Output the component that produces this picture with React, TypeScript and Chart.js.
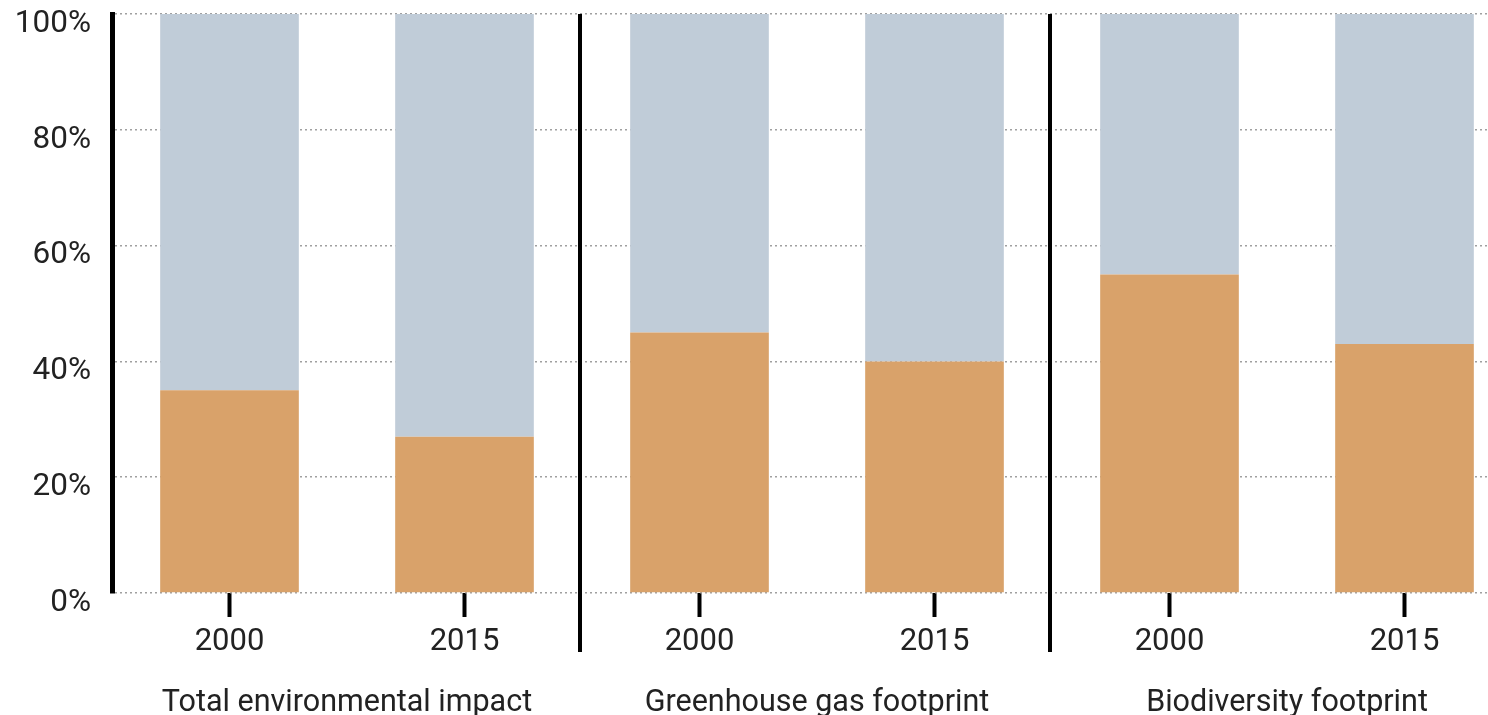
import React, { useEffect, useRef } from "react";
import { Chart, registerables } from "chart.js";

Chart.register(...registerables);

const years = ["2000", "2015", "2000", "2015", "2000", "2015"];
const groups = ["Total environmental impact", "Greenhouse gas footprint", "Biodiversity footprint"];
const orangeShare = [35, 27, 45, 40, 55, 43];
const grayShare = [65, 73, 55, 60, 45, 57];
const yTicks = [0, 20, 40, 60, 80, 100];

const ORANGE = "#D9A26A";
const GRAY = "#C0CCD8";
const FONT = "Roboto";

const dividerPlugin = {
  id: "dividers",
  afterDatasetsDraw(chart: any) {
    const x = chart.scales.x;
    const { ctx, chartArea } = chart;
    ctx.save();
    ctx.strokeStyle = "#000";
    ctx.lineWidth = 4;
    for (const i of [1, 3]) {
      const px = (x.getPixelForValue(i) + x.getPixelForValue(i + 1)) / 2 - 2;
      ctx.beginPath();
      ctx.moveTo(px, chartArea.top);
      ctx.lineTo(px, chartArea.bottom + 59);
      ctx.stroke();
    }
    ctx.restore();
  },
};

export default function App() {
  const ref = useRef<HTMLCanvasElement>(null);
  useEffect(() => {
    if (!ref.current) return;
    const chart = new Chart(ref.current, {
      type: "bar",
      data: {
        labels: years,
        datasets: [
          { label: "share", data: orangeShare, backgroundColor: ORANGE, xAxisID: "x" },
          { label: "rest", data: grayShare, backgroundColor: GRAY, xAxisID: "x" },
        ],
      },
      options: {
        animation: false,
        responsive: false,
        layout: { padding: { top: 14, right: 10, left: 0, bottom: 0 } },
        plugins: { legend: { display: false }, tooltip: { enabled: false } },
        datasets: { bar: { categoryPercentage: 1, barPercentage: 0.59 } } as any,
        scales: {
          x: {
            stacked: true,
            position: "bottom",
            grid: {
              display: true,
              drawOnChartArea: false,
              drawTicks: true,
              tickLength: 24,
              tickWidth: 4,
              tickColor: "#000",
              offset: false,
            },
            border: { display: false },
            ticks: { color: "#222", font: { family: FONT, size: 31 }, padding: 7 },
            afterFit(scale: any) {
              scale.height = 65;
              scale.paddingLeft = 0;
              scale.paddingRight = 0;
            },
          },
          x2: {
            type: "category",
            labels: groups,
            position: "bottom",
            grid: { display: false, drawTicks: false },
            border: { display: false },
            ticks: { color: "#222", font: { family: FONT, size: 30.5 }, padding: 27 },
            afterFit(scale: any) {
              scale.height = 82;
              scale.paddingLeft = 0;
              scale.paddingRight = 0;
            },
          },
          y: {
            stacked: true,
            min: 0,
            max: 100,
            afterBuildTicks(scale: any) {
              scale.ticks = yTicks.map((v) => ({ value: v }));
            },
            afterFit(scale: any) {
              scale.width = 112;
              scale.paddingTop = 0;
              scale.paddingBottom = 0;
            },
            grid: { color: "#a0a0a0", lineWidth: 1.5, drawTicks: false },
            border: { display: true, color: "#000", width: 5, dash: [2, 3] },
            ticks: {
              color: "#222",
              font: { family: FONT, size: 31.5 },
              padding: 21,
              labelOffset: 10,
              callback: (v: any) => v + "%",
            },
          },
        } as any,
      },
      plugins: [dividerPlugin],
    });
    return () => chart.destroy();
  }, []);
  return (
    <div style={{ position: "fixed", left: 0, top: 0, width: 1488, height: 715, overflow: "hidden", background: "#fff" }}>
      <canvas ref={ref} width={1532} height={740} style={{ width: 1532, height: 740, display: "block" }} />
    </div>
  );
}
